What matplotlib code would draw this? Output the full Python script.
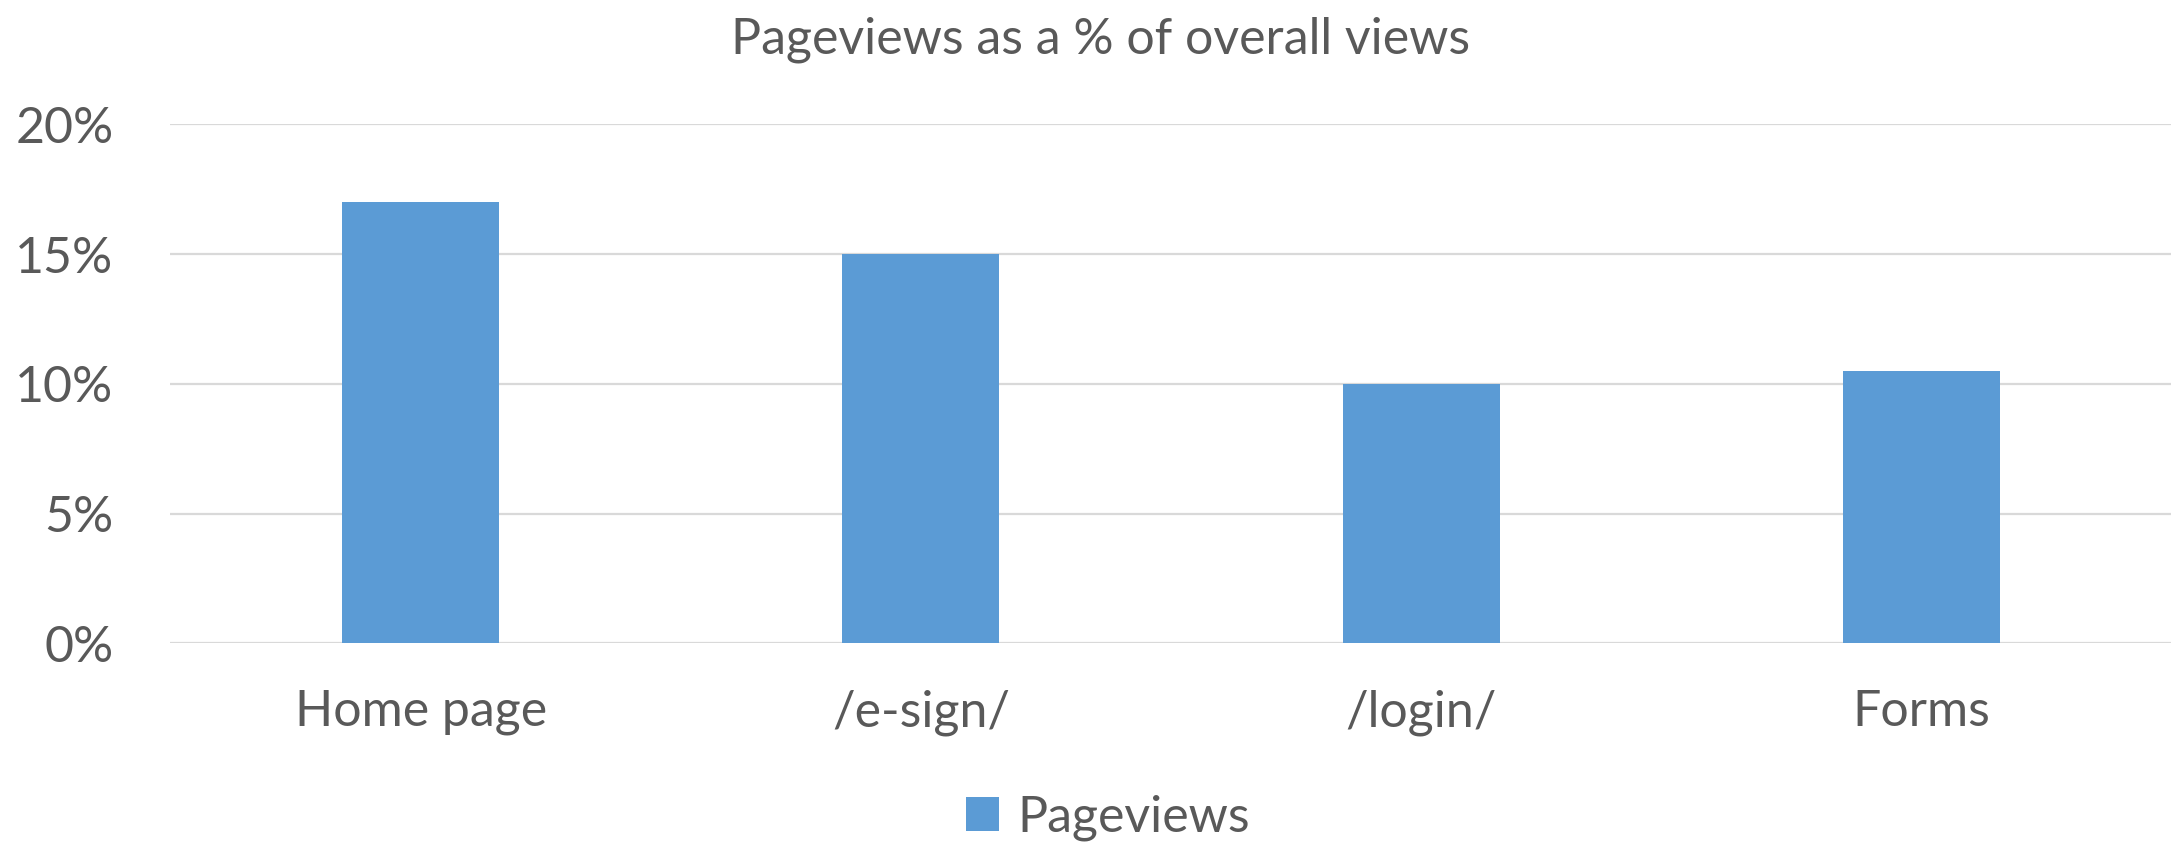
import matplotlib
matplotlib.use("Agg")
from matplotlib import pyplot as plt
from matplotlib.ticker import FuncFormatter
import numpy as np

# chart data
categories = ["Home page", "/e-sign/", "/login/", "Forms"]
pageviews = [17.0, 15.0, 10.0, 10.5]
yticks = [0, 5, 10, 15, 20]

bar_col = "#5b9bd5"
txt_col = "#595959"
grid_col = "#d9d9d9"

plt.rcParams["font.family"] = ["Lato", "DejaVu Sans"]

fig = plt.figure(figsize = (21.83, 8.49), dpi = 100)
ax = fig.add_axes([0.0781, 0.2423, 0.9166, 0.6111])

x = np.arange(len(categories))
ax.bar(x, pageviews, width = 0.314, color = bar_col, label = "Pageviews", zorder = 3)

ax.set_xlim(-0.5, len(categories) - 0.5)
ax.set_ylim(0, 20)
ax.set_yticks(yticks)
ax.yaxis.set_major_formatter(FuncFormatter(lambda v, p: "%d%%" % v))
ax.set_xticks(x)
ax.set_xticklabels(categories)

ax.grid(axis = "y", color = grid_col, linewidth = 1.6, zorder = 0)
ax.tick_params(axis = "both", length = 0, labelsize = 36, labelcolor = txt_col)
ax.tick_params(axis = "y", pad = 41)
ax.tick_params(axis = "x", pad = 33)
for s in ax.spines.values():
	s.set_visible(False)

fig.text(1101 / 2183, 1 - 40 / 849, "Pageviews as a % of overall views",
	ha = "center", va = "center", fontsize = 36, color = txt_col)

leg = fig.legend(loc = "center", bbox_to_anchor = (1108 / 2183, 1 - 818 / 849),
	frameon = False, fontsize = 36, handlelength = 0.66, handleheight = 0.66,
	handletextpad = 0.35, labelcolor = txt_col)

fig.savefig("out.png", dpi = 100)
